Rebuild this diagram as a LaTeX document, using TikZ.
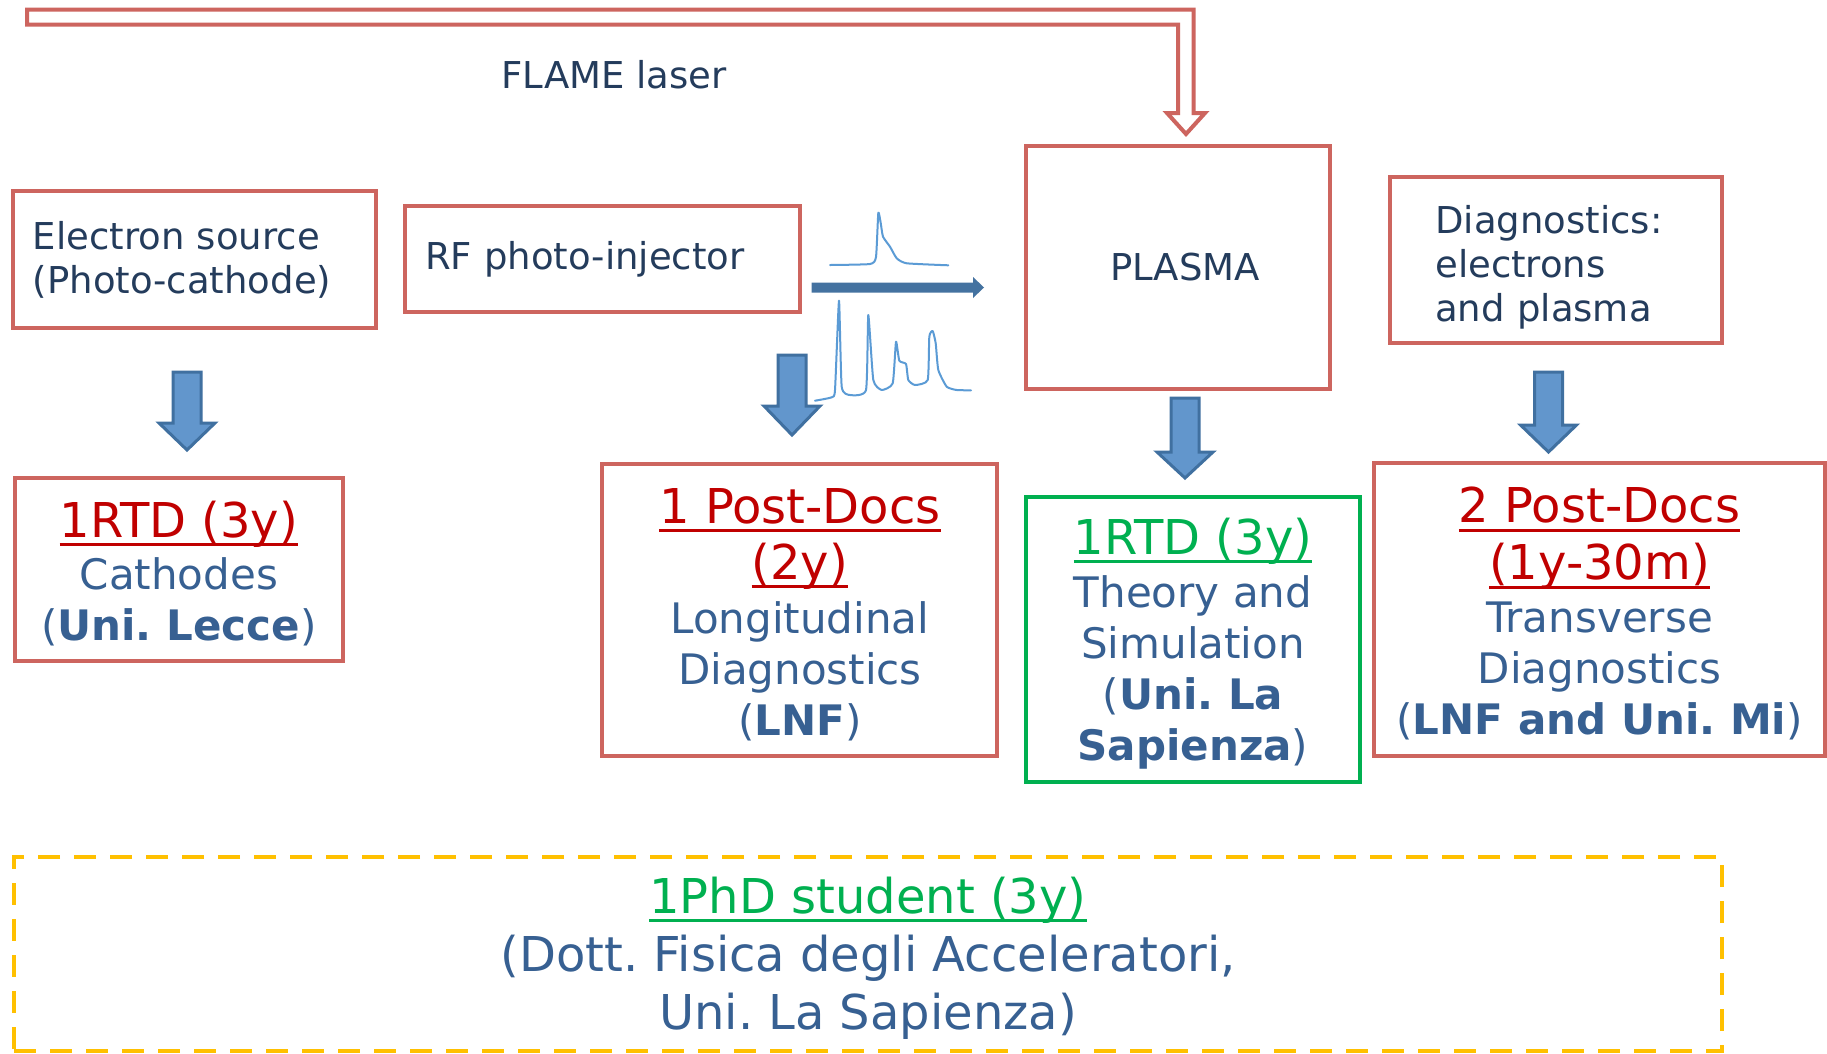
\documentclass[tikz,border=0pt]{standalone}
\usepackage{fontspec}
\setmainfont{DejaVu Sans}
\usepackage{graphicx}
\frenchspacing
\definecolor{boxred}{RGB}{205,101,95}
\definecolor{txtdark}{RGB}{36,60,92}
\definecolor{txtblue}{RGB}{55,96,146}
\definecolor{titlered}{RGB}{192,0,0}
\definecolor{grn}{RGB}{0,176,80}
\definecolor{gold}{RGB}{255,192,0}
\definecolor{arrfill}{RGB}{98,150,204}
\definecolor{arrline}{RGB}{64,112,160}
\definecolor{beamblue}{RGB}{68,114,160}
\definecolor{wave}{RGB}{91,155,213}
\newsavebox\ulbox
\newcommand\myul[1]{\sbox\ulbox{#1}\makebox[0pt][l]{\rule[-9pt]{\wd\ulbox}{3pt}}\usebox\ulbox}
\newcommand\topstrut[1]{\rule{0pt}{#1}}
\newcommand\blkdown[4]{\draw[blockarr] ({#1-14},#2) -- ({#1+14},#2) -- ({#1+14},#3) -- ({#1+28},#3) -- (#1,#4) -- ({#1-28},#3) -- ({#1-14},#3) -- cycle;}
\begin{document}
\begin{tikzpicture}[x=1pt,y={(0pt,-1pt)},
  redbox/.style={draw=boxred,line width=4pt,rectangle,inner sep=0pt},
  topfont/.style={font=\fontsize{37}{44}\selectfont,text=txtdark},
  lowfont/.style={font=\fontsize{42}{51}\selectfont,text=txtblue,align=center},
  blockarr/.style={fill=arrfill,draw=arrline,line width=3pt,line join=miter},
  wavestyle/.style={draw=wave,line width=2pt,line join=round,line cap=round}]
\fill[white] (0,0) rectangle (1827,1053);
\useasboundingbox (0,0) rectangle (1827,1053);

% laser
\draw[draw=boxred,line width=4pt,fill=white] (27,9.5) -- (1193.5,9.5) -- (1193.5,113) -- (1205,113) -- (1186,134) -- (1167,113) -- (1178,113) -- (1178,24.7) -- (27,24.7) -- cycle;
\node[topfont] (flame) at (614,75) {FLAME laser};

% top boxes
\node[redbox,topfont,minimum width=363.3pt,minimum height=137pt,text width=323pt,align=left,inner xsep=20pt] (src) at (194.4,259.5) {Electron source\\(Photo-cathode)};
\node[redbox,topfont,minimum width=395pt,minimum height=106pt,text width=355pt,align=left,inner xsep=20pt] (rf) at (602.5,259) {RF photo-injector};
\node[redbox,topfont,minimum width=304pt,minimum height=243pt] (plasma) at (1178,267.5) {\hspace*{14pt}PLASMA};
\node[redbox,topfont,minimum width=331.5pt,minimum height=166pt,text width=241pt,align=left,inner xsep=45pt] (diag) at (1555.75,260) {\topstrut{42pt}Diagnostics:\\electrons\\and plasma};

% beam arrow and profiles
\fill[beamblue] (811.7,282.7) -- (973,282.7) -- (973,277) -- (984,287.5) -- (973,298) -- (973,292.7) -- (811.7,292.7) -- cycle;
\draw[wavestyle] plot[smooth,tension=0.3] coordinates {(830,265) (870,264) (876,257) (878.3,212.7) (880.7,223) (883,236.7) (890,246.7) (896.7,258.3) (906.7,263.3) (948.3,265.3)};
\draw[wavestyle] plot[smooth,tension=0.3] coordinates {(815,400.7) (831.7,397.3) (835,390) (839,300.7) (841.7,386.7) (850,395) (866,390) (868.3,315) (873.3,380) (881.7,390) (892.7,383.3) (896,341.7) (899.3,360.7) (906,364) (908.3,380) (915,385) (927.7,380) (929.3,336.7) (932.7,331) (935.7,343.3) (938.3,370) (946.7,386.7) (956.7,390) (971,390.3)};

% block arrows
\blkdown{187}{372}{423}{450}
\blkdown{792}{355}{406}{435}
\blkdown{1185}{398}{452}{478}
\blkdown{1548.5}{372}{425}{452}

% lower boxes
\node[redbox,lowfont,minimum width=327.6pt,minimum height=183pt] (cath) at (178.8,569.2) {{\fontsize{48}{51}\selectfont\color{titlered}\topstrut{44.5pt}\myul{1RTD (3y)}}\\[1pt]Cathodes\\(\textbf{Uni. Lecce})};
\node[redbox,lowfont,minimum width=395pt,minimum height=292.5pt] (longd) at (799.9,610) {{\fontsize{48}{51}\selectfont\color{titlered}\topstrut{44.5pt}\myul{1 Post-Docs}}\\[5pt]{\fontsize{48}{51}\selectfont\color{titlered}\myul{(2y)}}\\[3pt]Longitudinal\\Diagnostics\\(\textbf{LNF})};
\node[draw=grn,line width=4.5pt,rectangle,inner sep=0pt,lowfont,minimum width=334pt,minimum height=285pt] (theory) at (1193,639.5) {{\fontsize{48}{51}\selectfont\color{grn}\topstrut{44.5pt}\myul{1RTD (3y)}}\\[2pt]Theory and\\Simulation\\(\textbf{Uni. La}\\\textbf{Sapienza})};
\node[redbox,lowfont,minimum width=451pt,minimum height=293pt] (trans) at (1599.5,609.5) {{\fontsize{48}{51}\selectfont\color{titlered}\topstrut{44.5pt}\myul{2 Post-Docs}}\\[6pt]{\fontsize{48}{51}\selectfont\color{titlered}\myul{(1y-30m)}}\\[2pt]Transverse\\Diagnostics\\(\textbf{LNF and Uni. Mi})};

% PhD box
\node[draw=gold,line width=4pt,dash pattern=on 22pt off 14pt,rectangle,inner sep=0pt,minimum width=1708pt,minimum height=194pt,font=\fontsize{48}{58}\selectfont,text=txtblue,align=center] (phd) at (868,954) {{\color{grn}\topstrut{44.5pt}\myul{1PhD student (3y)}}\\(Dott. Fisica degli Acceleratori,\\Uni. La Sapienza)};
\end{tikzpicture}
\end{document}
